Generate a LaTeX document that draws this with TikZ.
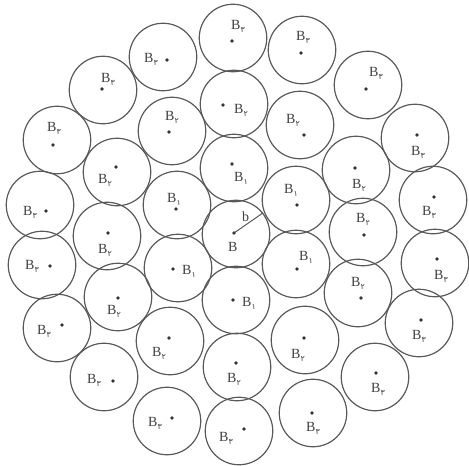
\documentclass[tikz,border=0pt]{standalone}
\usepackage{fontspec}
\setmainfont{Liberation Serif}
\newfontfamily\arabicfont[Script=Arabic]{DejaVu Sans}
\newcommand{\bsub}[1]{B\raisebox{-3pt}{\fontsize{8}{9}\selectfont\arabicfont #1}}
\tikzset{
  ball/.style={circle, draw=black!65, line width=1.2pt, minimum size=67.5pt, inner sep=0pt},
  lab/.style={anchor=base west, inner sep=0pt, text=black!75, font=\fontsize{14}{16}\selectfont},
  dotmark/.style={fill=black!80}
}
\begin{document}
\begin{tikzpicture}[x=1pt,y=-1pt]
\useasboundingbox (0,0) rectangle (469,466);
% centre
\node[ball] (c0) at (236,234) {};
\coordinate (d0) at (234,233);
\fill[dotmark] (d0) circle (1.8);
\node[lab] (l0) at (228,251) {B};
\draw[black!70, line width=0.9pt] (d0) -- (c0.38);
\node[lab] (lb) at (242,221) {b};
% name / circle centre / dot / label (B centre) / digit
\foreach \n/\cx/\cy/\dx/\dy/\lx/\ly/\k in {
 a1/234/168/232/164/239/176/۱,
 a2/296/200/297/205/289/188/۱,
 a3/296/264/297/269/304/255/۱,
 a4/236/300/233/300/247/301/۱,
 a5/178/268/173/269/187/269/۱,
 a6/177/205/176/209/172/197/۱,
 b1/234/104/223/105/239/108/۲,
 b2/300/125/304/135/291/118/۲,
 b3/356/170/355/168/357/183/۲,
 b4/363/232/364/235/361/217/۲,
 b5/358/293/361/298/356/281/۲,
 b6/305/340/304/338/296/353/۲,
 b7/237/367/236/363/232/377/۲,
 b8/170/341/169/338/157/351/۲,
 b9/118/297/118/298/112/309/۲,
 b10/107/236/108/233/103/248/۲,
 b11/117/172/116/167/103/178/۲,
 b12/172/131/169/132/170/115/۲,
 d1/233/38/232/41/236/24/۳,
 d2/302/50/301/53/301/35/۳,
 d3/368/85/366/89/374/71/۳,
 d4/415/138/417/135/416/150/۳,
 d5/433/200/434/197/427/210/۳,
 d6/435/263/437/259/439/274/۳,
 d7/419/323/421/320/417/334/۳,
 d8/375/377/376/373/376/387/۳,
 d9/313/413/312/413/311/426/۳,
 d10/239/431/244/429/224/436/۳,
 d11/167/421/172/418/153/421/۳,
 d12/104/377/113/381/92/378/۳,
 d13/57/328/62/325/42/329/۳,
 d14/42/265/50/266/30/264/۳,
 d15/40/205/46/211/28/210/۳,
 d16/57/140/53/145/52/126/۳,
 d17/103/90/102/89/106/77/۳,
 d18/163/57/167/60/149/57/۳}{
  \node[ball] (c\n) at (\cx,\cy) {};
  \fill[dotmark] (\dx,\dy) circle (1.8);
  \node[lab] (l\n) at (\lx-5,\ly+5) {\bsub{\k}};
}
\end{tikzpicture}
\end{document}
